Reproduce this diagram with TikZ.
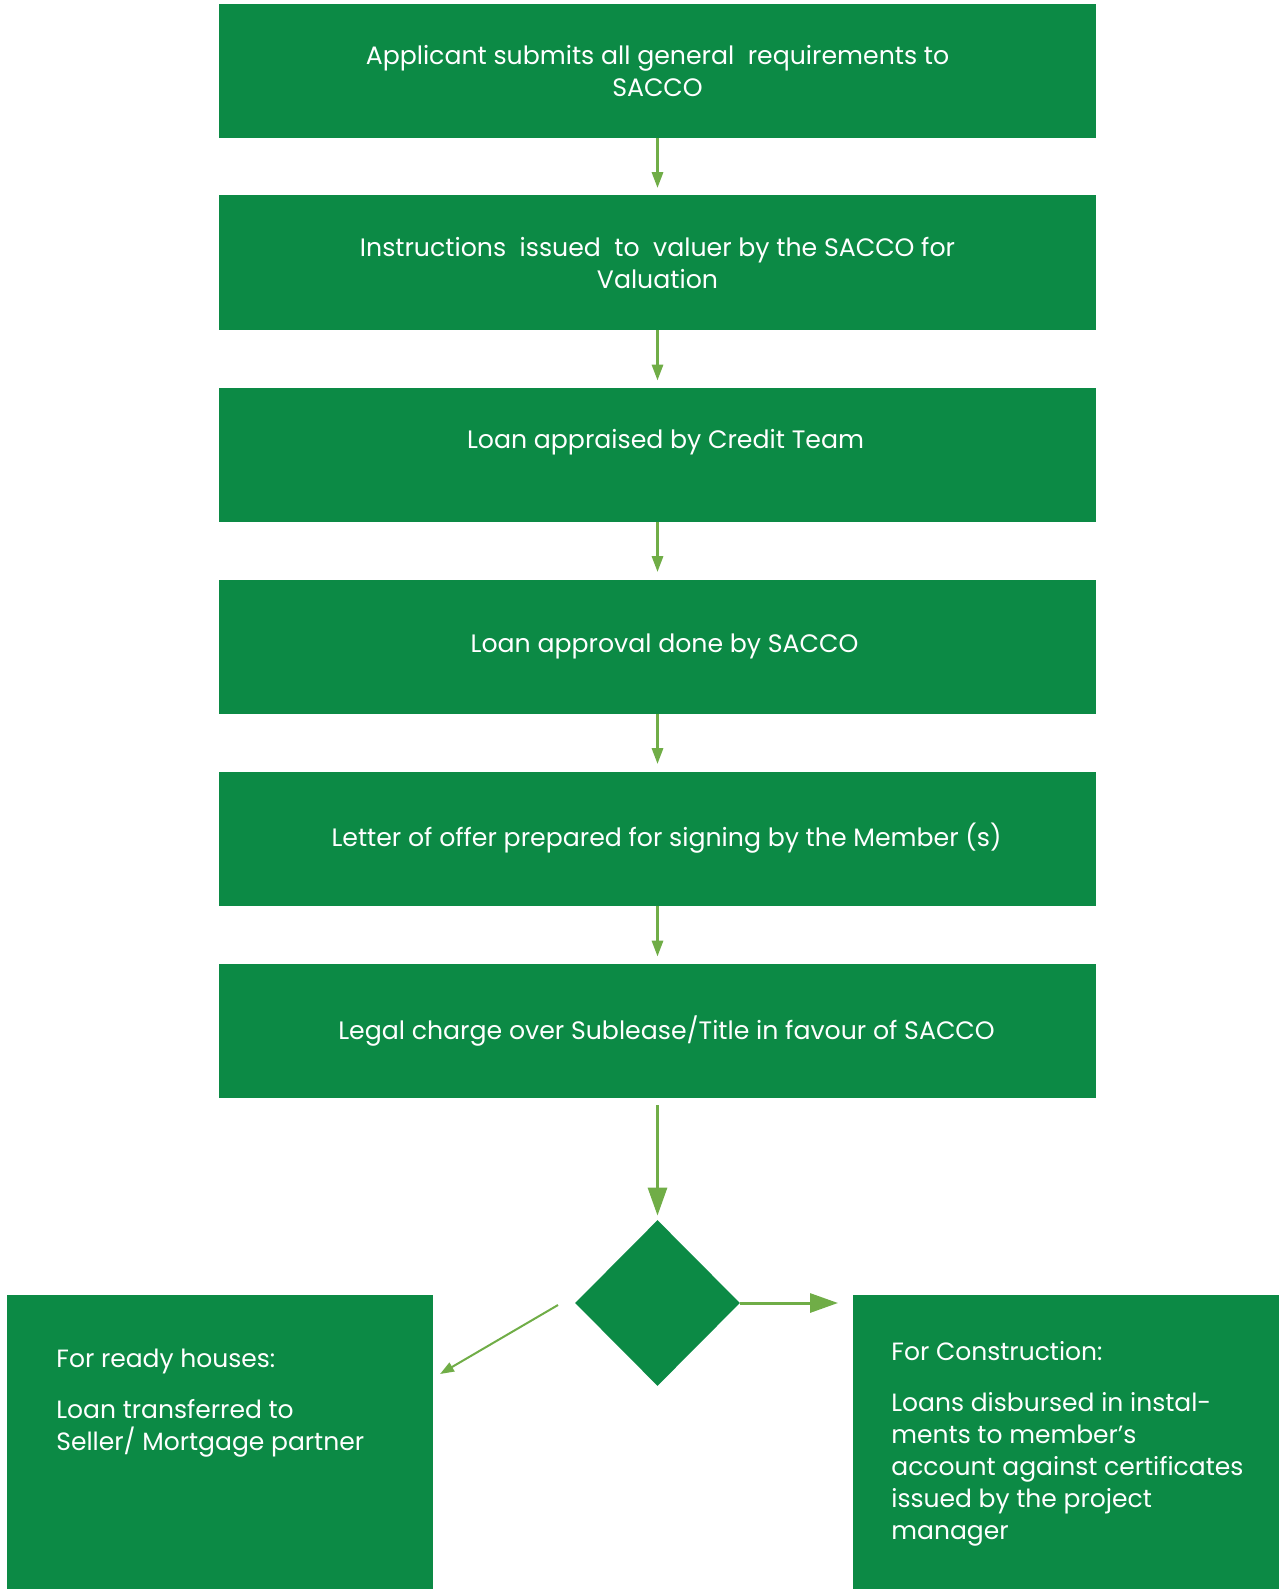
\documentclass[tikz,border=0pt]{standalone}
\usepackage{fontspec}
\setmainfont{Poppins}
\usetikzlibrary{arrows.meta,shapes.geometric,positioning}
\definecolor{boxgreen}{RGB}{12,138,69}
\definecolor{arrowgreen}{RGB}{112,173,71}

\begin{document}
\begin{tikzpicture}[x=0.5pt, y=-0.5pt, % 1 Einheit = 1 Pixel des Vorbilds
  stepbox/.style={fill=boxgreen, text=white, minimum width=438.5pt, minimum height=67pt,
    inner sep=0pt, align=center, font=\fontsize{12.6}{16}\selectfont},
  endbox/.style={fill=boxgreen, minimum width=213pt, minimum height=147pt, inner sep=0pt},
  endtext/.style={text=white, align=left, inner sep=0pt, font=\fontsize{12.5}{16}\selectfont},
  decision/.style={diamond, fill=boxgreen, aspect=1, minimum width=82.5pt, minimum height=83pt, inner sep=0pt},
  smallarrow/.style={draw=arrowgreen, line width=1.5pt, -{Triangle[length=8pt,width=5.5pt]}},
  bigarrow/.style={draw=arrowgreen, line width=1.5pt, -{Triangle[length=14pt,width=9.5pt]}},
  thinarrow/.style={draw=arrowgreen, line width=1pt, -{Triangle[length=7pt,width=5pt]}}]

\useasboundingbox (0,0) rectangle (1280,1589);

  % Schritte untereinander
  \node[stepbox] (apply) at (657.5,71) {Applicant submits all general\ \ requirements to\\SACCO};
  \node[stepbox] (valuer) at (657.5,262.5) {Instructions\ \ issued\ \ to\ \ valuer by the SACCO for\\Valuation};
  \node[stepbox] (appraise) at (657.5,455) {\hspace*{8pt}Loan appraised by Credit Team\\\mbox{}};
  \node[stepbox] (approve) at (657.5,646.5) {\hspace*{7pt}Loan approval done by SACCO};
  \node[stepbox] (offer) at (657.5,838.5) {\hspace*{9pt}Letter of offer prepared for signing by the Member (s)};
  \node[stepbox] (charge) at (657.5,1031) {\hspace*{9pt}Legal charge over Sublease/Title in favour of SACCO};

  % Pfeile zwischen den Schritten
  \foreach \a/\b in {apply/valuer, valuer/appraise, appraise/approve, approve/offer, offer/charge}
    \draw[smallarrow, shorten >=3.5pt] (\a) -- (\b);

  % Entscheidung
  \node[decision] (choice) at (657.5,1303) {};
  \draw[bigarrow, shorten <=3.5pt, shorten >=2pt] (charge) -- (choice);

  % die zwei Wege unten
  \node[endbox, anchor=north west] (ready) at (7,1295) {};
  \node[endbox, anchor=north west] (build) at (853,1295) {};
  \node[endtext, anchor=north west] (readytext) at (56,1349)
    {For ready houses:\\[9.5pt]Loan transferred to\\Seller/ Mortgage partner};
  \node[endtext, anchor=north west] (buildtext) at (891,1341)
    {For Construction:\\[9.5pt]Loans disbursed in instal-\\ments to member’s\\account against certificates\\issued by the project\\manager};

  \coordinate (readystart) at (558,1305);
  \coordinate (readyend) at (440,1374);
  \draw[thinarrow] (readystart) -- (readyend);
  \draw[bigarrow, shorten >=7.5pt] (choice.east) -- (choice.east -| build.west);
\end{tikzpicture}
\end{document}
